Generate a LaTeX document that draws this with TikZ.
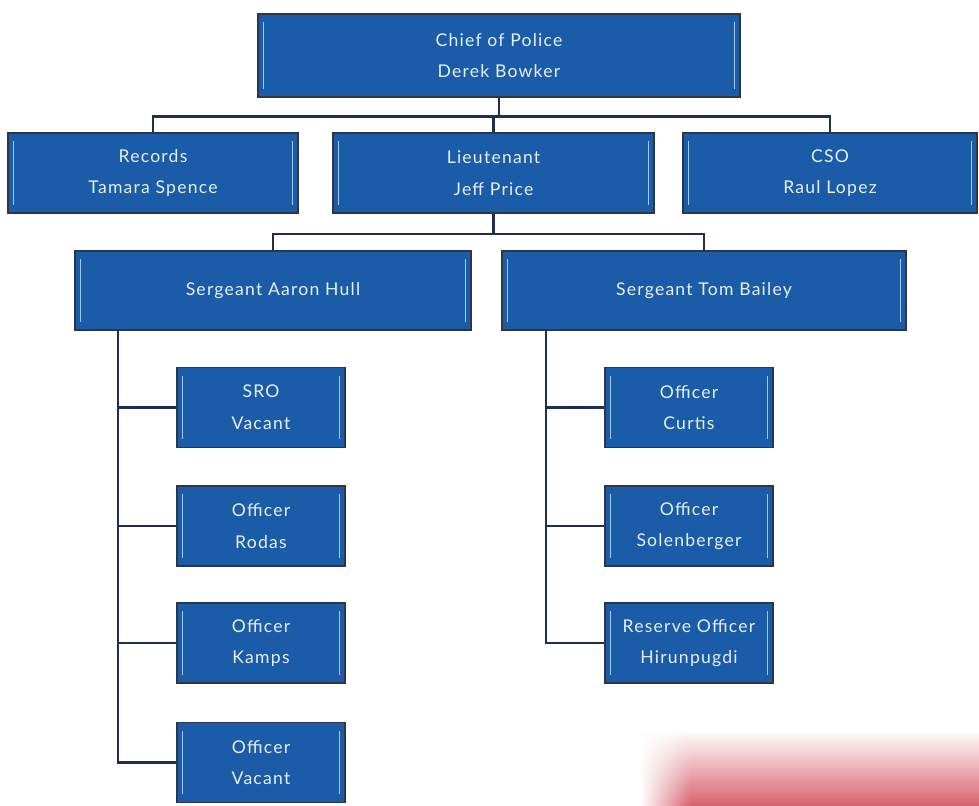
\documentclass[tikz,border=0pt]{standalone}
\usepackage{fontspec}
\newfontfamily\boxfont[LetterSpace=7]{Lato}
\usetikzlibrary{fadings}
\definecolor{pdblue}{HTML}{1B5CA8}
\definecolor{pdedge}{HTML}{2E3646}
\definecolor{pdline}{HTML}{1E2F52}
\definecolor{pdglow}{HTML}{A4C8EE}
\definecolor{pdtext}{HTML}{E8EEF6}
\definecolor{smudge}{HTML}{D86470}

\begin{document}
\begin{tikzpicture}[
  x=0.025cm, y=-0.025cm,
  unitbox/.style={draw=pdedge, line width=1.2pt, fill=pdblue, text=pdtext,
    minimum width=#1*0.025cm, minimum height=2cm, align=center, inner sep=0pt,
    font={\boxfont\fontsize{12.5}{22.5}\selectfont},
    path picture={
      \draw[pdglow, line width=0.9pt]
        ([xshift=4pt,yshift=-6pt]path picture bounding box.north west) --
        ([xshift=4pt,yshift=6pt]path picture bounding box.south west);
      \draw[pdglow, line width=0.9pt]
        ([xshift=-4pt,yshift=-6pt]path picture bounding box.north east) --
        ([xshift=-4pt,yshift=6pt]path picture bounding box.south east);
    }},
  link/.style={draw=pdline, line width=1.8pt},
]

% Frame
\useasboundingbox (0,0) rectangle (979,805);
\fill[white] (0,0) rectangle (979,805);

% scan smudge, bottom right
\shade[top color=white, bottom color=smudge]
  (690,730) rectangle (979,805);
\shade[top color=white, bottom color=smudge, path fading=west]
  (640,730) rectangle (690.5,805);

% === Top level ===
\node[unitbox=482, minimum height=2.08cm] (chief) at (499,55.5)
  {Chief of Police\\Derek Bowker};

% === Second row ===
\node[unitbox=290] (records) at (153,173) {Records\\Tamara Spence};
\node[unitbox=321] (lieut) at (493.5,173) {Lieutenant\\Jeff Price};
\node[unitbox=294] (cso) at (830,173) {CSO\\Raul Lopez};

% === Sergeants ===
\node[unitbox=396, minimum height=1.98cm] (hull) at (273,290.5)
  {Sergeant Aaron Hull};
\node[unitbox=404, minimum height=1.98cm] (bailey) at (704,290.5)
  {Sergeant Tom Bailey};

% === Officers under Hull ===
\node[unitbox=168] (sro) at (261,407.5) {SRO\\Vacant};
\node[unitbox=168] (rodas) at (261,526) {Officer\\Rodas};
\node[unitbox=168] (kamps) at (261,643) {Officer\\Kamps};
\node[unitbox=168] (vacant) at (261,762.5) {Officer\\Vacant};

% === Officers under Bailey ===
\node[unitbox=168] (curtis) at (689,407.5) {Officer\\Curtis};
\node[unitbox=168] (solen) at (689,526) {Officer\\Solenberger};
\node[unitbox=168] (reserve) at (689,643) {Reserve Officer\\Hirunpugdi};

% === Connectors ===
\foreach \n in {records,lieut,cso}
  \draw[link] (chief.south) -- ++(0,18.5) -| (\n.north);

\foreach \n in {hull,bailey}
  \draw[link] (lieut.south) -- ++(0,20) -| (\n.north);

\foreach \n in {sro,rodas,kamps,vacant}
  \draw[link] (hull.south west) ++(44,0) |- (\n.west);

\foreach \n in {curtis,solen,reserve}
  \draw[link] (bailey.south west) ++(45,0) |- (\n.west);

\end{tikzpicture}
\end{document}
